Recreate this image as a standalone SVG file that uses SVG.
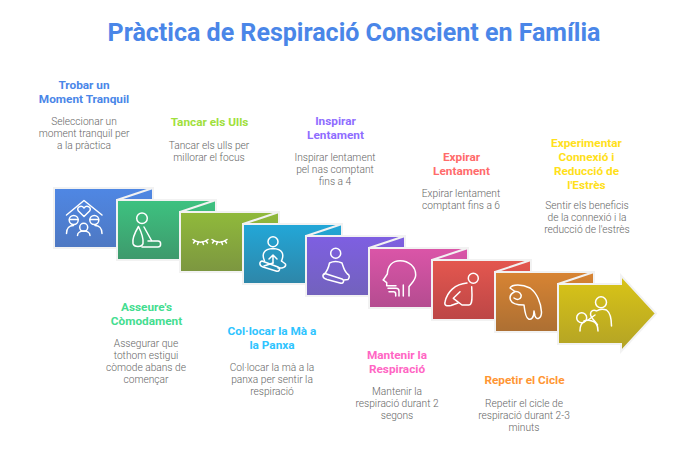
<svg xmlns="http://www.w3.org/2000/svg" width="694" height="450" viewBox="0 0 694 450">
<style>
.t{font-family:Roboto,"Liberation Sans",sans-serif;text-anchor:middle}
.title{font-size:26.5px;font-weight:700;fill:#4a86e8}
.h{font-size:11.8px;font-weight:700}
.d{font-size:10.2px;font-weight:300;fill:#666}
.p{stroke:#f2f2f2;stroke-width:2}
.i{fill:none;stroke:#fff;stroke-width:1.500;stroke-linecap:round;stroke-linejoin:round}
.f{fill:none;stroke:#f2f2f2;stroke-width:2}
</style>
<defs>
<linearGradient id="g1" x1="0" y1="0" x2="0" y2="1"><stop offset="0" stop-color="#4f87e4"/><stop offset="1" stop-color="#4e78c2"/></linearGradient>
<linearGradient id="g2" x1="0" y1="0" x2="0" y2="1"><stop offset="0" stop-color="#3dc280"/><stop offset="1" stop-color="#3e996c"/></linearGradient>
<linearGradient id="g3" x1="0" y1="0" x2="0" y2="1"><stop offset="0" stop-color="#90ba3b"/><stop offset="1" stop-color="#7c9640"/></linearGradient>
<linearGradient id="g4" x1="0" y1="0" x2="0" y2="1"><stop offset="0" stop-color="#22a7d8"/><stop offset="1" stop-color="#2e86a8"/></linearGradient>
<linearGradient id="g5" x1="0" y1="0" x2="0" y2="1"><stop offset="0" stop-color="#7e5fe2"/><stop offset="1" stop-color="#7262bc"/></linearGradient>
<linearGradient id="g6" x1="0" y1="0" x2="0" y2="1"><stop offset="0" stop-color="#db55a8"/><stop offset="1" stop-color="#b44c90"/></linearGradient>
<linearGradient id="g7" x1="0" y1="0" x2="0" y2="1"><stop offset="0" stop-color="#e4574f"/><stop offset="1" stop-color="#bc4646"/></linearGradient>
<linearGradient id="g8" x1="0" y1="0" x2="0" y2="1"><stop offset="0" stop-color="#d88433"/><stop offset="1" stop-color="#ac6f33"/></linearGradient>
<linearGradient id="g9" x1="0" y1="0" x2="0" y2="1"><stop offset="0" stop-color="#dac516"/><stop offset="1" stop-color="#b2a226"/></linearGradient>
</defs>
<rect width="694" height="450" fill="#fff"/>
<text class="t title" x="354" y="41" textLength="493" lengthAdjust="spacingAndGlyphs">Pràctica de Respiració Conscient en Família</text>

<g id="node1">
<rect class="p" x="54" y="188" width="99" height="60" fill="url(#g1)"/>
<g class="i">
<path d="M66.500 215L84 200.500L102 215"/>
<path d="M84 216.500l-5.600-5.500c-2.600-3.200 2.600-6.600 5.600-3c3-3.600 8.200-.2 5.600 3z"/>
<circle cx="73.700" cy="220" r="4.500"/><path d="M69.500 219.500h8.500"/>
<circle cx="94.300" cy="220" r="4.500"/><path d="M90 219.500h8.500"/>
<circle cx="83.700" cy="227.300" r="4"/>
<path d="M66.500 233.500c0-5 3-8 7-8"/><path d="M102 233.500c0-5-3-8-7-8"/>
<path d="M77.500 235.500c0-6 12.500-6 12.500 0"/>
</g>
</g>
<g id="node2">
<rect class="p" x="117" y="200" width="99" height="60" fill="url(#g2)"/>
<path class="f" d="M117 200L153 188"/>
<g class="i">
<circle cx="142" cy="218.300" r="5.300"/>
<path d="M138.500 226.500c-3 5-6.500 12-5.500 17c1 4 9 4 10 0c.5-4-2-12-4.500-17z"/>
<path d="M144 227l7.500 13.500"/>
<path d="M148 241h10c3.500 0 3.500 6 0 6h-16"/>
</g>
</g>
<g id="node3">
<rect class="p" x="180" y="212" width="99" height="60" fill="url(#g3)"/>
<path class="f" d="M180 212L216 200"/>
<g class="i">
<path d="M193 239.500c4 3.500 11 3.500 15 0"/><path d="M195 241l-1.500 2M198.500 242l-1 2.500M202.500 242l1 2.500M206 241l1.500 2"/>
<path d="M212 239.500c4 3.500 11 3.500 15 0"/><path d="M214 241l-1.500 2M217.500 242l-1 2.500M221.500 242l1 2.500M225 241l1.500 2"/>
</g>
</g>
<g id="node4">
<rect class="p" x="243" y="224" width="99" height="60" fill="url(#g4)"/>
<path class="f" d="M243 224L279 212"/>
<g class="i">
<circle cx="273" cy="241.700" r="5"/>
<path d="M264.500 261c-3-7-1-12 8.500-12.500c9.500 .5 11.500 5.500 8.500 12.500"/>
<path d="M273 263v-8M269 259l4-4l4 4"/>
<path d="M262 261l16 6c3 1.200 1.500 5-2 4l-13-4c-4-1.200-4-5-1-6z"/>
<path d="M273 263l-9 3"/>
<path d="M281.500 261l4 3c1 3-3 4.500-7.500 4"/>
</g>
</g>
<g id="node5">
<rect class="p" x="306" y="236" width="99" height="60" fill="url(#g5)"/>
<path class="f" d="M306 236L342 224"/>
<g class="i">
<circle cx="335.700" cy="253.300" r="5"/>
<path d="M329.500 263c4-2 8-2 12.500 0c1.500 4 2 8 5.500 11M329.500 263c-1 5-2 8-5.500 11.500"/>
<path d="M325 273.500l17 5.500c3 1.200 1.500 5-2 4l-13-3.500c-5-1.500-5-5-2-6z"/>
<path d="M347.500 274c2.500 1 2 4 .5 5.500l-4 .5"/>
</g>
</g>
<g id="node6">
<rect class="p" x="369" y="248" width="99" height="60" fill="url(#g6)"/>
<path class="f" d="M369 248L405 236"/>
<g class="i">
<path d="M383.300 280l4-6c.5-8 5-13.300 12.700-13.300c9 0 15.700 6 15.700 14.300c0 5-4 8-6.700 11.700v9.300"/>
<path d="M383.300 280l3.400 2.700v3h9.300"/>
<path d="M388 288.300h8c2 0 3 1 3 3v4.700"/>
<path d="M389 291.700h4.700c1.500 0 2 1 2 2.300v2"/>
<path d="M403.300 285v11"/>
</g>
</g>
<g id="node7">
<rect class="p" x="432" y="260" width="99" height="60" fill="url(#g7)"/>
<path class="f" d="M432 260L468 248"/>
<g class="i">
<circle cx="473.300" cy="278.300" r="5"/>
<path d="M467 283C455 284 447 292 445 302C444 306 447 306 451 305.500L458 303"/>
<path d="M460 291.700L453.300 298.300L462 305H469C471.500 305 472 302 472 295L471.700 286.700"/>
</g>
</g>
<g id="node8">
<rect class="p" x="495" y="272" width="99" height="60" fill="url(#g8)"/>
<path class="f" d="M495 272L531 260"/>
<g class="i">
<path d="M510 288C512 284 522 284 530 288C537 293 541 303 541.500 312C541.500 318 537 321 535 316L534 311C534 318 531 320 528.500 319C526 318 525 314 524 305C518 305 512 304 510.500 300C509 296 512 293 515 291.500Z"/>
<path d="M515 291.500C519 291 522 294 521 297C520 300 517 300 514 298"/>
</g>
</g>
<g id="node9">
<path class="p" d="M558 284H621V275.500L656 313.500L621 351.500V344H558Z" fill="url(#g9)"/>
<path class="f" d="M558 284L594 272"/>
<g class="i">
<circle cx="601" cy="302.300" r="5.500"/>
<circle cx="581.700" cy="317.700" r="5"/>
<path d="M611.500 326c0-6-1-13-5-16c-3-1-7-1-10 1c-3-2-6 0-6 3c0 4 4 6 7 11"/>
<path d="M580 331c0-5 1-8 4-9M598 331c0-5-2-9-6-10c-3-1-5-1-8 0"/>
<path d="M588 320l7-5"/>
</g>
</g>

<g id="labels">
<g class="t h" fill="#4a86e8"><text x="84" y="89">Trobar un</text><text x="84" y="103">Moment Tranquil</text></g>
<g class="t d"><text x="84" y="125">Seleccionar un</text><text x="84" y="137">moment tranquil per</text><text x="84" y="149">a la pràctica</text></g>
<g class="t h" fill="#a0e03c"><text x="209.500" y="126">Tancar els Ulls</text></g>
<g class="t d"><text x="209" y="149">Tancar els ulls per</text><text x="209" y="161">millorar el focus</text></g>
<g class="t h" fill="#8f6dff"><text x="335.500" y="125">Inspirar</text><text x="335.500" y="139">Lentament</text></g>
<g class="t d"><text x="335" y="161">Inspirar lentament</text><text x="335" y="173">pel nas comptant</text><text x="335" y="185">fins a 4</text></g>
<g class="t h" fill="#ff6b6b"><text x="461.500" y="161">Expirar</text><text x="461.500" y="175">Lentament</text></g>
<g class="t d"><text x="461" y="197">Expirar lentament</text><text x="461" y="209">comptant fins a 6</text></g>
<g class="t h" fill="#ffe01a"><text x="586.500" y="147">Experimentar</text><text x="586.500" y="161">Connexió i</text><text x="586.500" y="175">Reducció de</text><text x="586.500" y="189">l'Estrès</text></g>
<g class="t d"><text x="587" y="209">Sentir els beneficis</text><text x="587" y="221">de la connexió i la</text><text x="587" y="233">reducció de l'estrès</text></g>
<g class="t h" fill="#44dd90"><text x="146.500" y="311">Asseure's</text><text x="146.500" y="325">Còmodament</text></g>
<g class="t d"><text x="146" y="347">Assegurar que</text><text x="146" y="359">tothom estigui</text><text x="146" y="371">còmode abans de</text><text x="146" y="383">començar</text></g>
<g class="t h" fill="#2ec4ff"><text x="272" y="335">Col·locar la Mà a</text><text x="272" y="349">la Panxa</text></g>
<g class="t d"><text x="272" y="371">Col·locar la mà a la</text><text x="272" y="383">panxa per sentir la</text><text x="272" y="395">respiració</text></g>
<g class="t h" fill="#ff66c4"><text x="397" y="359">Mantenir la</text><text x="397" y="373">Respiració</text></g>
<g class="t d"><text x="397" y="395">Mantenir la</text><text x="397" y="407">respiració durant 2</text><text x="397" y="419">segons</text></g>
<g class="t h" fill="#ff9633"><text x="524.500" y="384">Repetir el Cicle</text></g>
<g class="t d"><text x="524" y="407">Repetir el cicle de</text><text x="524" y="419">respiració durant 2-3</text><text x="524" y="431">minuts</text></g>
</g>
</svg>
